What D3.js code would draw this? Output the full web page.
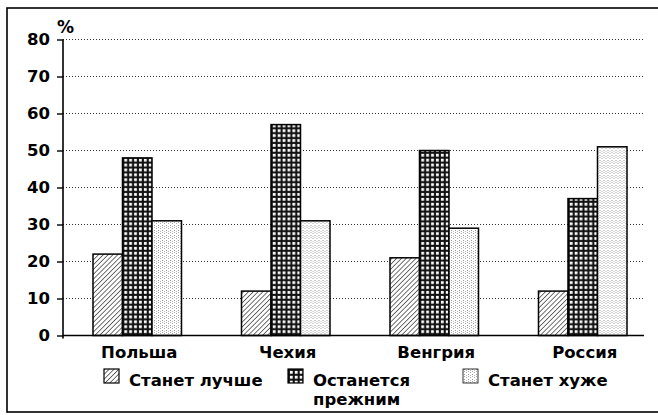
<!DOCTYPE html>
<html>
<head>
<meta charset="utf-8">
<script src="https://cdn.jsdelivr.net/npm/d3@7"></script>
<style>
  body { margin: 0; background: #fff; }
  svg { display: block; }
  .tick text { font-family: "DejaVu Sans", sans-serif; font-weight: bold; font-size: 16.5px; }
  .lbl { font-family: "DejaVu Sans", sans-serif; font-weight: bold; font-size: 16.5px; }
</style>
</head>
<body>
<script>
// countries and answer categories
var countries = ["Польша", "Чехия", "Венгрия", "Россия"];
var series = ["Станет лучше", "Останется прежним", "Станет хуже"];
// values in %, one array per series
var better = [22, 12, 21, 12];
var same = [48, 57, 50, 37];
var worse = [31, 31, 29, 51];
var yTicks = [0, 10, 20, 30, 40, 50, 60, 70, 80];

var width = 658, height = 415;

var svg = d3.select("body").append("svg")
    .attr("width", width)
    .attr("height", height);

// fill patterns
var defs = svg.append("defs");
var hatch = defs.append("pattern")
    .attr("id", "hatch")
    .attr("patternUnits", "userSpaceOnUse")
    .attr("width", 3.4).attr("height", 3.4)
    .attr("patternTransform", "rotate(45)");
hatch.append("rect").attr("width", 3.4).attr("height", 3.4).attr("fill", "#fff");
hatch.append("line").attr("x1", 0).attr("y1", 0).attr("x2", 0).attr("y2", 3.4)
    .attr("stroke", "#111").attr("stroke-width", 1.2);

var grid = defs.append("pattern")
    .attr("id", "grid")
    .attr("patternUnits", "userSpaceOnUse")
    .attr("width", 4.9).attr("height", 4.9);
grid.append("rect").attr("width", 4.9).attr("height", 4.9).attr("fill", "#111");
grid.append("rect").attr("x", 1.9).attr("y", 1.9).attr("width", 2.8).attr("height", 2.8).attr("fill", "#fff");

var dots = defs.append("pattern")
    .attr("id", "dots")
    .attr("patternUnits", "userSpaceOnUse")
    .attr("width", 4).attr("height", 5);
dots.append("rect").attr("width", 4).attr("height", 5).attr("fill", "#fff");
dots.append("rect").attr("x", 1).attr("y", 0).attr("width", 1).attr("height", 1).attr("fill", "#999");
dots.append("rect").attr("x", 1).attr("y", 2).attr("width", 1).attr("height", 1).attr("fill", "#aaa");
dots.append("rect").attr("x", 3).attr("y", 1).attr("width", 1).attr("height", 1).attr("fill", "#bbb");
dots.append("rect").attr("x", 3).attr("y", 3).attr("width", 1).attr("height", 1).attr("fill", "#aaa");

var fills = ["url(#hatch)", "url(#grid)", "url(#dots)"];

// outer frame
svg.append("rect")
    .attr("x", 7).attr("y", 8)
    .attr("width", 660).attr("height", 404)
    .attr("fill", "none")
    .attr("stroke", "#000")
    .attr("stroke-width", 1.6);

var plotLeft = 63, plotTop = 39.5, plotBottom = 335.5, gridEnd = 644;

var y = d3.scaleLinear().domain([0, 80]).range([plotBottom, plotTop]);
var x0 = d3.scaleBand().domain(countries).range([plotLeft, 657])
    .paddingInner(0.404).paddingOuter(0.202);
var x1 = d3.scaleBand().domain(series).range([0, x0.bandwidth()]);

// dotted grid lines
svg.append("g").selectAll("line")
    .data(yTicks.slice(1))
    .enter().append("line")
    .attr("x1", plotLeft).attr("x2", gridEnd)
    .attr("y1", function(d) { return y(d); })
    .attr("y2", function(d) { return y(d); })
    .attr("stroke", "#333")
    .attr("stroke-width", 1)
    .attr("stroke-dasharray", "1,2");

// bars
var rows = countries.map(function(c, i) {
    return { country: c, values: [better[i], same[i], worse[i]] };
});
svg.append("g").selectAll("g")
    .data(rows)
    .enter().append("g")
    .attr("transform", function(d) { return "translate(" + x0(d.country) + ",0)"; })
    .selectAll("rect")
    .data(function(d) { return d.values.map(function(v, k) { return { s: series[k], v: v, k: k }; }); })
    .enter().append("rect")
    .attr("x", function(d) { return x1(d.s); })
    .attr("y", function(d) { return y(d.v); })
    .attr("width", x1.bandwidth())
    .attr("height", function(d) { return plotBottom - y(d.v); })
    .attr("fill", function(d) { return fills[d.k]; })
    .attr("stroke", "#000")
    .attr("stroke-width", 1.5);

// y axis
var yAxis = svg.append("g")
    .attr("transform", "translate(" + plotLeft + ",0)")
    .call(d3.axisLeft(y).tickValues(yTicks).tickSize(6).tickPadding(7).tickSizeOuter(0));
yAxis.select(".domain").attr("stroke-width", 1.6).attr("d", "M0," + plotTop + "V" + (plotBottom + 3));
yAxis.selectAll(".tick line").attr("stroke-width", 1.4);
yAxis.selectAll(".tick text").attr("fill", "#000");

// x axis line
svg.append("line")
    .attr("x1", plotLeft).attr("x2", gridEnd)
    .attr("y1", plotBottom).attr("y2", plotBottom)
    .attr("stroke", "#000").attr("stroke-width", 1.6);

svg.append("text")
    .attr("class", "lbl")
    .attr("x", 57).attr("y", 33)
    .style("font-size", "17px")
    .text("%");

// category labels
svg.append("g").selectAll("text")
    .data(countries)
    .enter().append("text")
    .attr("class", "lbl")
    .attr("x", function(d) { return x0(d) + x0.bandwidth() / 2 + 2; })
    .attr("y", 358)
    .attr("text-anchor", "middle")
    .text(function(d) { return d; });

// legend
var legX = [104, 288, 463];
var leg = svg.append("g").selectAll("g")
    .data(series)
    .enter().append("g")
    .attr("transform", function(d, i) { return "translate(" + legX[i] + ",369)"; });
leg.append("rect")
    .attr("width", 15).attr("height", 14)
    .attr("fill", function(d, i) { return fills[i]; })
    .attr("stroke", "#000")
    .attr("stroke-width", function(d, i) { return i == 2 ? 0.8 : 1.2; });
leg.each(function(d, i) {
    var g = d3.select(this);
    var lines = i == 1 ? ["Останется", "прежним"] : [d];
    lines.forEach(function(s, j) {
        g.append("text")
            .attr("class", "lbl")
            .attr("x", 25).attr("y", 17 + j * 19)
            .text(s);
    });
});
</script>
</body>
</html>
